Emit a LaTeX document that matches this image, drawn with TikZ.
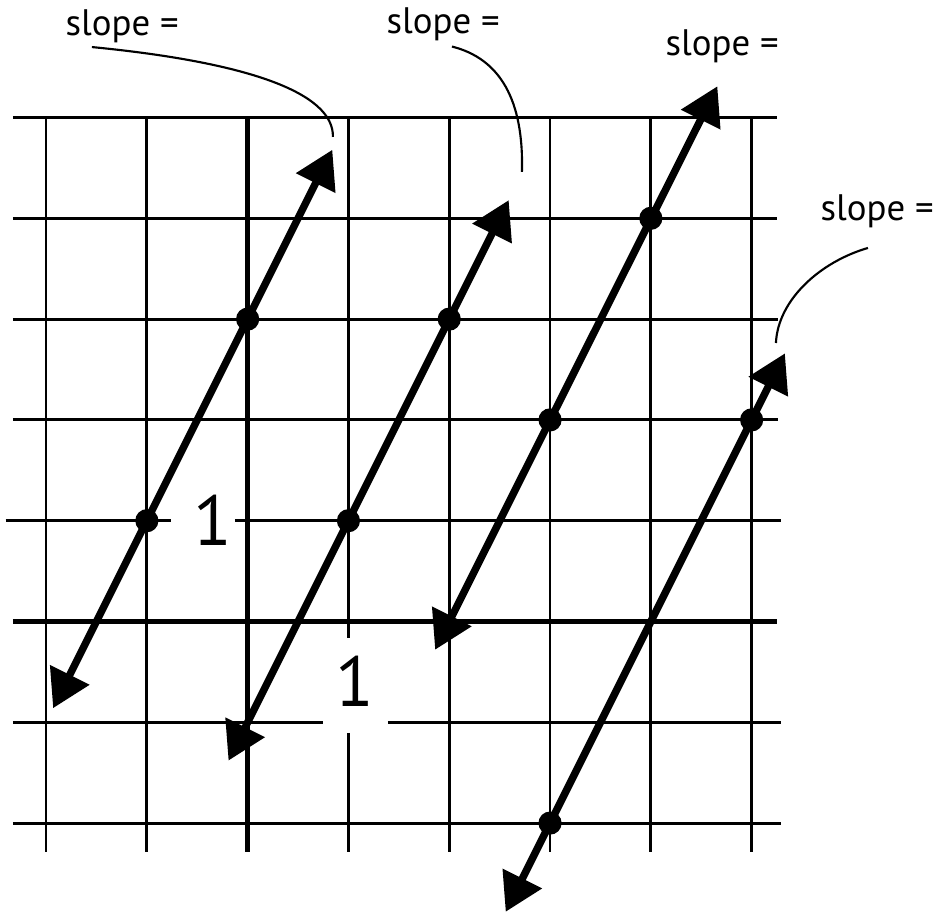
\documentclass[tikz,border=0pt]{standalone}
\usepackage{fontspec}
\setmainfont{PT Sans}
\usetikzlibrary{arrows.meta}
\begin{document}
\begin{tikzpicture}[
  gridline/.style={line width=0.8pt},
  axisline/.style={line width=1.4pt},
  graphline/.style={line width=2.1pt, {Triangle[length=3.7mm,width=4.2mm]}-{Triangle[length=3.7mm,width=4.2mm]}},
  leader/.style={line width=0.6pt},
  lbl/.style={font=\fontsize{10.4pt}{12pt}\selectfont, inner sep=0pt, anchor=base west},
  one/.style={font=\fontsize{20pt}{24pt}\selectfont, inner sep=0pt},
  dot/.style={circle, fill=black, inner sep=0pt, minimum size=2.3mm}
]
\useasboundingbox (-2.457,-2.892) rectangle (6.849,6.166);

% vertical grid lines
\foreach \x in {-2,-1,2,3,4,5}
  \draw[gridline] (\x,5.015) -- (\x,-2.286);
\draw[gridline] (1,5.015) -- (1,-0.164);
\draw[gridline] (1,-1.106) -- (1,-2.286);
% horizontal grid lines
\draw[gridline] (-2.33,5) -- (5.25,5);
\draw[gridline] (-2.33,4) -- (5.25,4);
\draw[gridline] (-2.33,3) -- (5.26,3);
\draw[gridline] (-2.33,2) -- (5.26,2);
\draw[gridline] (-2.40,1) -- (-0.761,1);
\draw[gridline] (-0.126,1) -- (5.29,1);
\draw[gridline] (-2.33,-1) -- (0.747,-1);
\draw[gridline] (1.392,-1) -- (5.29,-1);
\draw[gridline] (-2.33,-2) -- (5.29,-2);
% axes
\draw[axisline] (-2.33,0) -- (5.25,0);
\draw[axisline] (0,5.015) -- (0,-2.286);

% unit labels
\node[one] (u1) at (-0.349,1.008) {1};
\node[one] (u2) at (1.064,-0.590) {1};

% points
\node[dot] (p1) at (-1,1) {};
\node[dot] (p2) at (0,3) {};
\node[dot] (p3) at (1,1) {};
\node[dot] (p4) at (2,3) {};
\node[dot] (p5) at (3,2) {};
\node[dot] (p6) at (4,4) {};
\node[dot] (p7) at (5,2) {};
\node[dot] (p8) at (3,-2) {};

% arrow ends
\coordinate (a1) at (-1.93,-0.86);
\coordinate (b1) at (0.84,4.68);
\coordinate (a2) at (-0.19,-1.38);
\coordinate (b2) at (2.59,4.18);
\coordinate (a3) at (1.86,-0.28);
\coordinate (b3) at (4.66,5.31);
\coordinate (a4) at (2.56,-2.88);
\coordinate (b4) at (5.33,2.66);

\draw[graphline] (a1) -- (b1);
\draw[graphline] (a2) -- (b2);
\draw[graphline] (a3) -- (b3);
\draw[graphline] (a4) -- (b4);

% slope labels
\node[lbl] (s1) at (-1.812,5.809) {slope =};
\node[lbl] (s2) at (1.372,5.829) {slope =};
\node[lbl] (s3) at (4.139,5.620) {slope =};
\node[lbl] (s4) at (5.677,3.983) {slope =};

% leaders
\coordinate (l1s) at (-1.545,5.699);
\coordinate (l1e) at (0.846,4.807);
\coordinate (l2s) at (2.027,5.704);
\coordinate (l2e) at (2.721,4.460);
\coordinate (l4s) at (6.154,3.706);
\coordinate (l4e) at (5.241,2.763);
\draw[leader] (l1s) .. controls (-0.027,5.551) and (0.856,5.253) .. (l1e);
\draw[leader] (l2s) .. controls (2.503,5.585) and (2.741,5.174) .. (l2e);
\draw[leader] (l4s) .. controls (5.677,3.567) and (5.261,3.190) .. (l4e);
\end{tikzpicture}
\end{document}
